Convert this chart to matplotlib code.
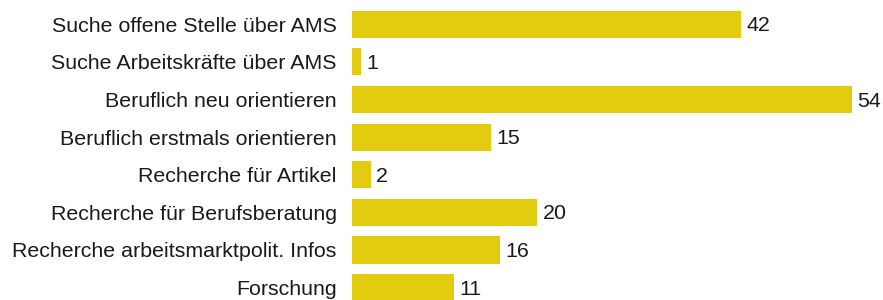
import matplotlib
matplotlib.use("Agg")
import matplotlib.pyplot as plt

categories = [
    "Suche offene Stelle über AMS",
    "Suche Arbeitskräfte über AMS",
    "Beruflich neu orientieren",
    "Beruflich erstmals orientieren",
    "Recherche für Artikel",
    "Recherche für Berufsberatung",
    "Recherche arbeitsmarktpolit. Infos",
    "Forschung",
]
values = [42, 1, 54, 15, 2, 20, 16, 11]

bar_color = "#E3CB10"
text_color = "#1a1a1a"

plt.rcParams["font.family"] = ["Liberation Sans", "DejaVu Sans"]

fig = plt.figure(figsize=(8.83, 3.0), dpi=100)
# 9.25 px per unit, bars start at x=352
ax = fig.add_axes([352 / 883, 0, 555 / 883, 1])

ypos = list(range(len(categories)))
ax.barh(ypos, values, height=0.72, color=bar_color)
for y, v in zip(ypos, values):
    ax.text(v + 0.6, y + 0.04, str(v), va="center", ha="left", fontsize=15.4, color=text_color)

ax.set_xlim(0, 60)
ax.set_ylim(7.33, -0.646)
ax.set_yticks(ypos)
ax.set_yticklabels(categories, fontsize=15.4, color=text_color)
ax.tick_params(axis="y", length=0, pad=11)
ax.set_xticks([])
for s in ax.spines.values():
    s.set_visible(False)

fig.savefig("out.png", dpi=100)
